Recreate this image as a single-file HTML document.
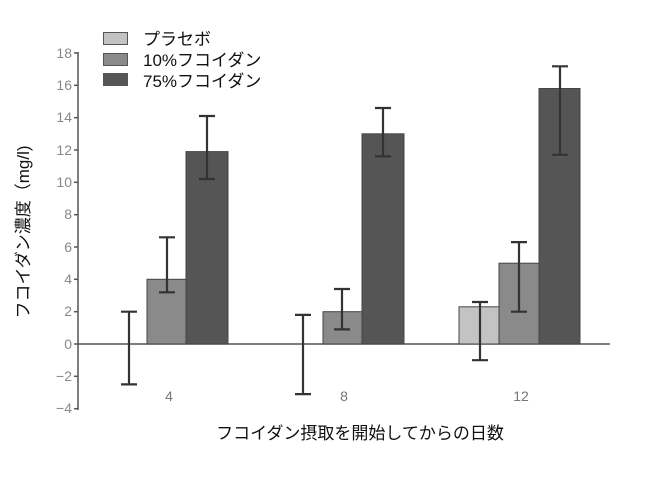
<!DOCTYPE html><html><head><meta charset="utf-8"><style>body{margin:0;background:#fff}</style></head><body>
<svg width="660" height="485" xmlns="http://www.w3.org/2000/svg" font-family="Liberation Sans, Noto Sans CJK JP, sans-serif">
<rect width="660" height="485" fill="#fff"/>
<g stroke="#555" stroke-width="1.5" fill="none">
<line x1="78" y1="52" x2="78" y2="410"/>
<line x1="78" y1="344" x2="610" y2="344"/>
</g>
<g stroke="#555" stroke-width="1.5">
<line x1="74" y1="53" x2="78" y2="53"/><line x1="74" y1="85.3" x2="78" y2="85.3"/><line x1="74" y1="117.7" x2="78" y2="117.7"/><line x1="74" y1="150" x2="78" y2="150"/><line x1="74" y1="182.3" x2="78" y2="182.3"/><line x1="74" y1="214.7" x2="78" y2="214.7"/><line x1="74" y1="247" x2="78" y2="247"/><line x1="74" y1="279.3" x2="78" y2="279.3"/><line x1="74" y1="311.7" x2="78" y2="311.7"/><line x1="74" y1="344" x2="78" y2="344"/><line x1="74" y1="376.3" x2="78" y2="376.3"/><line x1="74" y1="408.7" x2="78" y2="408.7"/>
</g>
<g fill="#888" font-size="14" text-anchor="end">
<text x="72" y="58">18</text><text x="72" y="90">16</text><text x="72" y="122">14</text><text x="72" y="155">12</text><text x="72" y="187">10</text><text x="72" y="219">8</text><text x="72" y="252">6</text><text x="72" y="284">4</text><text x="72" y="316">2</text><text x="72" y="349">0</text><text x="72" y="381">−2</text><text x="72" y="413">−4</text>
</g>
<g stroke="#444" stroke-width="1">
<rect x="147" y="279.3" width="39" height="64.7" fill="#8a8a8a"/>
<rect x="186" y="151.6" width="42" height="192.4" fill="#555"/>
<rect x="323" y="311.7" width="39" height="32.3" fill="#8a8a8a"/>
<rect x="362" y="133.8" width="42" height="210.2" fill="#555"/>
<rect x="459" y="306.8" width="40" height="37.2" fill="#c3c3c3"/>
<rect x="499" y="263.2" width="40" height="80.8" fill="#8a8a8a"/>
<rect x="539" y="88.5" width="41" height="255.5" fill="#555"/>
</g>
<g stroke="#333" stroke-width="2.2">
<path d="M129 311.7V384.4M121 311.7H137M121 384.4H137"/>
<path d="M167 237.3V292.3M159 237.3H175M159 292.3H175"/>
<path d="M207 116V179M199 116H215M199 179H215"/>
<path d="M303 314.9V394.1M295 314.9H311M295 394.1H311"/>
<path d="M342 289V329.4M334 289H350M334 329.4H350"/>
<path d="M383 108V156.4M375 108H391M375 156.4H391"/>
<path d="M480 302V360.2M472 302H488M472 360.2H488"/>
<path d="M519 242.1V311.7M511 242.1H527M511 311.7H527"/>
<path d="M560 66.3V154.8M552 66.3H568M552 154.8H568"/>
</g>
<g fill="#777" font-size="14" text-anchor="middle">
<text x="169" y="401">4</text><text x="344" y="401">8</text><text x="521" y="401">12</text>
</g>
<g stroke="#555" stroke-width="1">
<rect x="103.5" y="32.5" width="24" height="12" fill="#c3c3c3"/>
<rect x="103.5" y="53.5" width="24" height="12" fill="#8a8a8a"/>
<rect x="103.5" y="73.5" width="24" height="12" fill="#555"/>
</g>
<g fill="#111" font-size="17">
<text x="143" y="45">プラセボ</text><text x="143" y="66">10%フコイダン</text><text x="143" y="87">75%フコイダン</text>
</g>
<text x="360" y="439" font-size="17" text-anchor="middle" fill="#111">フコイダン摂取を開始してからの日数</text>
<text transform="translate(29,232) rotate(-90)" font-size="17" text-anchor="middle" fill="#111">フコイダン濃度（mg/l)</text>
</svg>
</body></html>
